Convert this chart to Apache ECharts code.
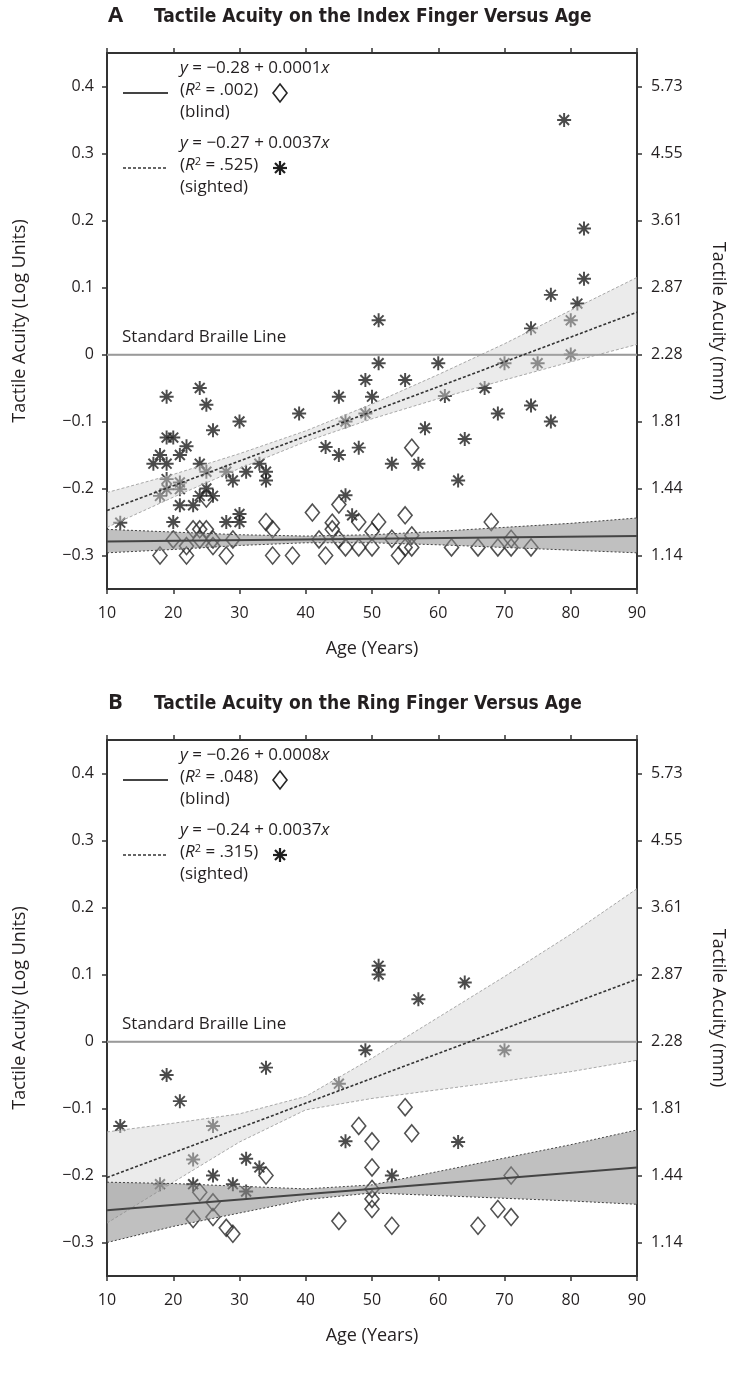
<!DOCTYPE html>
<html>
<head>
<meta charset="utf-8">
<script src="https://cdn.jsdelivr.net/npm/echarts@6/dist/echarts.min.js"></script>
<style>
  html, body { margin: 0; padding: 0; background: #fff; }
  #chart { width: 735px; height: 1379px; }
</style>
</head>
<body>
<div id="chart"></div>
<script>
// ---- data ----
const bandAges = [10, 20, 30, 40, 50, 60, 70, 80, 90];
const fitAges = [10, 90];
const yTicks = [-0.3, -0.2, -0.1, 0, 0.1, 0.2, 0.3, 0.4];
const mmLabels = ['1.14', '1.44', '1.81', '2.28', '2.87', '3.61', '4.55', '5.73'];
const brailleLevel = 0;

// panel A: index finger
const sightedA = [[12,-0.251],[17,-0.163],[18,-0.15],[19,-0.063],[19,-0.124],[20,-0.124],[22,-0.137],[19,-0.163],[21,-0.15],[24,-0.05],[25,-0.075],[26,-0.113],[30,-0.1],[39,-0.088],[45,-0.063],[24,-0.163],[25,-0.175],[28,-0.175],[29,-0.188],[31,-0.175],[33,-0.163],[34,-0.175],[34,-0.188],[19,-0.186],[21,-0.191],[19,-0.201],[21,-0.201],[25,-0.2],[18,-0.211],[24,-0.211],[26,-0.211],[21,-0.225],[23,-0.225],[20,-0.25],[28,-0.25],[30,-0.238],[30,-0.25],[43,-0.138],[45,-0.15],[46,-0.1],[46,-0.21],[47,-0.24],[48,-0.139],[49,-0.038],[49,-0.088],[50,-0.063],[51,-0.013],[51,0.051],[53,-0.163],[55,-0.038],[57,-0.163],[58,-0.11],[60,-0.013],[61,-0.062],[63,-0.188],[64,-0.126],[67,-0.05],[69,-0.088],[70,-0.013],[74,-0.076],[74,0.039],[75,-0.013],[77,-0.1],[77,0.089],[79,0.35],[80,0],[80,0.051],[81,0.076],[82,0.113],[82,0.188]];
const blindA = [[18,-0.3],[20,-0.276],[22,-0.3],[22,-0.286],[23,-0.261],[24,-0.261],[25,-0.261],[24,-0.276],[26,-0.276],[26,-0.286],[25,-0.215],[28,-0.3],[29,-0.276],[34,-0.25],[35,-0.261],[35,-0.3],[38,-0.3],[41,-0.236],[42,-0.276],[43,-0.3],[44,-0.251],[44,-0.261],[45,-0.224],[45,-0.276],[46,-0.288],[48,-0.25],[48,-0.288],[50,-0.264],[50,-0.288],[51,-0.25],[53,-0.275],[54,-0.3],[55,-0.24],[55,-0.288],[56,-0.139],[56,-0.27],[56,-0.288],[62,-0.288],[66,-0.288],[68,-0.25],[69,-0.288],[71,-0.275],[71,-0.288],[74,-0.288]];
const fitBlindA = [-0.279, -0.271];
const fitSightedA = [-0.233, 0.063];
const bandBlindAHi = [-0.261, -0.265, -0.269, -0.271, -0.269, -0.264, -0.258, -0.252, -0.244];
const bandBlindALo = [-0.296, -0.291, -0.285, -0.281, -0.281, -0.284, -0.288, -0.292, -0.296];
const bandSightedAHi = [-0.206, -0.179, -0.148, -0.114, -0.074, -0.03, 0.016, 0.066, 0.115];
const bandSightedALo = [-0.258, -0.213, -0.17, -0.13, -0.096, -0.066, -0.038, -0.011, 0.015];

// panel B: ring finger
const sightedB = [[12,-0.126],[18,-0.213],[19,-0.05],[21,-0.089],[23,-0.176],[23,-0.213],[26,-0.126],[26,-0.2],[29,-0.213],[31,-0.224],[31,-0.175],[33,-0.188],[34,-0.039],[45,-0.063],[46,-0.149],[49,-0.013],[51,0.113],[51,0.1],[53,-0.2],[57,0.063],[63,-0.15],[64,0.088],[70,-0.013]];
const blindB = [[23,-0.265],[24,-0.225],[26,-0.24],[26,-0.262],[28,-0.278],[29,-0.287],[34,-0.2],[45,-0.268],[48,-0.126],[50,-0.149],[50,-0.188],[50,-0.22],[50,-0.235],[50,-0.25],[53,-0.275],[55,-0.098],[56,-0.137],[66,-0.275],[69,-0.25],[71,-0.262],[71,-0.2]];
const fitBlindB = [-0.252, -0.188];
const fitSightedB = [-0.203, 0.093];
const bandBlindBHi = [-0.21, -0.212, -0.216, -0.22, -0.214, -0.194, -0.174, -0.154, -0.132];
const bandBlindBLo = [-0.3, -0.276, -0.256, -0.236, -0.226, -0.23, -0.234, -0.238, -0.243];
const bandSightedBHi = [-0.135, -0.122, -0.108, -0.082, -0.025, 0.036, 0.097, 0.16, 0.228];
const bandSightedBLo = [-0.271, -0.21, -0.15, -0.102, -0.085, -0.072, -0.059, -0.045, -0.028];

// ---- styling ----
const FONT = "'Open Sans', 'Noto Sans', sans-serif";
const TITLE_FONT = "'Liberation Sans Narrow', 'DejaVu Sans Condensed', 'Open Sans', sans-serif";
const INK = '#231f20';
const ASTERISK = 'path://M0 4.3H10V5.7H0Z M4.3 0H5.7V10H4.3Z M0.969 1.959L1.959 0.969L9.031 8.041L8.041 9.031Z M1.959 9.031L0.969 8.041L8.041 0.969L9.031 1.959Z';

const grids = [
  { left: 107, width: 533, top: 53, height: 536 },
  { left: 107, width: 533, top: 740, height: 536 }
];

const tickIdx = v => yTicks.findIndex(t => Math.abs(t - v) < 1e-6);
const logLabel = v => {
  if (Math.abs(v) < 1e-6) return '0';
  return (v < 0 ? '\u2212' : '') + Math.abs(v).toFixed(1);
};

function xAxes(gi) {
  const base = {
    gridIndex: gi, type: 'value', min: 10, max: 90, interval: 10,
    axisLine: { onZero: false, lineStyle: { color: '#333', width: 2 } },
    axisTick: { inside: false, length: 5, lineStyle: { color: '#333', width: 1.5 } },
    splitLine: { show: false }
  };
  return [
    Object.assign({}, base, {
      position: 'bottom',
      axisLabel: { fontFamily: FONT, fontSize: 16, color: INK, margin: 16 },
      name: 'Age (Years)', nameLocation: 'middle', nameGap: 51,
      nameTextStyle: { fontFamily: FONT, fontSize: 18, color: INK }
    }),
    Object.assign({}, base, { position: 'top', axisLabel: { show: false } })
  ];
}

function yAxes(gi) {
  const base = {
    gridIndex: gi, type: 'value', min: -0.35, max: 0.45,
    axisLine: { onZero: false, lineStyle: { color: '#333', width: 2 } },
    axisTick: { inside: false, length: 5, customValues: yTicks, lineStyle: { color: '#333', width: 1.5 } },
    splitLine: { show: false },
    nameLocation: 'middle',
    nameTextStyle: { fontFamily: FONT, fontSize: 18, color: INK }
  };
  return [
    Object.assign({}, base, {
      position: 'left',
      axisLabel: { customValues: yTicks, formatter: logLabel, fontFamily: FONT, fontSize: 16, color: INK, margin: 13 },
      name: 'Tactile Acuity (Log Units)', nameGap: 78
    }),
    Object.assign({}, base, {
      position: 'right',
      axisLabel: { customValues: yTicks, formatter: v => mmLabels[tickIdx(v)], fontFamily: FONT, fontSize: 16, color: INK, margin: 14 },
      name: 'Tactile Acuity (mm)', nameGap: 72, nameRotate: -90
    })
  ];
}

function bandSeries(gi, hi, lo, fill, edge, dash) {
  return {
    type: 'custom', xAxisIndex: gi * 2, yAxisIndex: gi * 2, z: 4, silent: true,
    data: [[50, 0]],
    renderItem(params, api) {
      const top = bandAges.map((a, i) => api.coord([a, hi[i]]));
      const bot = bandAges.map((a, i) => api.coord([a, lo[i]]));
      return {
        type: 'group',
        children: [
          { type: 'polygon', shape: { points: top.concat(bot.slice().reverse()) }, style: { fill: fill } },
          { type: 'polyline', shape: { points: top }, style: { fill: null, stroke: edge, lineWidth: 1, lineDash: dash } },
          { type: 'polyline', shape: { points: bot }, style: { fill: null, stroke: edge, lineWidth: 1, lineDash: dash } }
        ]
      };
    }
  };
}

function panelSeries(gi, sighted, blind, fitB, fitS, bbHi, bbLo, bsHi, bsLo) {
  const ax = { xAxisIndex: gi * 2, yAxisIndex: gi * 2 };
  return [
    Object.assign({
      type: 'line', data: [[10, brailleLevel], [90, brailleLevel]], symbol: 'none', silent: true, z: 1,
      lineStyle: { color: '#9a9a9a', width: 1.5 },
      markLine: {
        silent: true, symbol: 'none', data: [{ yAxis: brailleLevel }],
        lineStyle: { color: '#9a9a9a', width: 1.5, type: 'solid' },
        label: { formatter: 'Standard Braille Line', position: 'insideStartTop', distance: [15, 9],
                 fontFamily: FONT, fontSize: 17, color: INK }
      }
    }, ax),
    Object.assign({
      type: 'scatter', data: sighted, symbol: ASTERISK, symbolSize: 14, z: 2,
      itemStyle: { color: '#1e1e1e' }
    }, ax),
    Object.assign({
      type: 'scatter', data: blind, symbol: 'diamond', symbolSize: [14, 17], z: 2,
      itemStyle: { color: 'rgba(0,0,0,0)', borderColor: '#262626', borderWidth: 1.6 }
    }, ax),
    bandSeries(gi, bsHi, bsLo, 'rgba(212,212,212,0.47)', '#a8a8a8', [3, 2]),
    bandSeries(gi, bbHi, bbLo, 'rgba(140,140,140,0.55)', '#444', [2, 2]),
    Object.assign({
      type: 'line', data: fitAges.map((a, i) => [a, fitS[i]]), symbol: 'none', silent: true, z: 6,
      lineStyle: { color: '#333', width: 1.6, type: [3, 2] }
    }, ax),
    Object.assign({
      type: 'line', data: fitAges.map((a, i) => [a, fitB[i]]), symbol: 'none', silent: true, z: 6,
      lineStyle: { color: '#444', width: 2 }
    }, ax)
  ];
}

// legend + titles as graphic elements
const rich = {
  i: { fontStyle: 'italic', fontFamily: FONT, fontSize: 17, color: INK },
  s: { fontSize: 11, fontFamily: FONT, color: INK, padding: [0, 0, 8, 0] }
};
function legendGraphics(top, eqB, r2B, eqS, r2S) {
  const t = (yc, text) => ({
    type: 'text', left: 180, top: yc - 12,
    style: { text: text, rich: rich, fontFamily: FONT, fontSize: 17, fill: INK }
  });
  const yL1 = top + 40, yL2 = top + 115;
  return [
    { type: 'line', shape: { x1: 123, y1: yL1, x2: 168, y2: yL1 }, style: { stroke: '#444', lineWidth: 2 } },
    t(yL1 - 21, eqB), t(yL1, r2B), t(yL1 + 23, '(blind)'),
    { type: 'polygon', shape: { points: [[280, yL1 - 9], [287, yL1], [280, yL1 + 9], [273, yL1]] },
      style: { fill: 'none', stroke: '#262626', lineWidth: 1.6 } },
    { type: 'line', shape: { x1: 123, y1: yL2, x2: 168, y2: yL2 }, style: { stroke: '#333', lineWidth: 1.6, lineDash: [3, 2] } },
    t(yL2 - 21, eqS), t(yL2, r2S), t(yL2 + 23, '(sighted)'),
    { type: 'group', x: 280, y: yL2, children: [
      { type: 'line', shape: { x1: -7, y1: 0, x2: 7, y2: 0 }, style: { stroke: '#1e1e1e', lineWidth: 2.2 } },
      { type: 'line', shape: { x1: 0, y1: -7, x2: 0, y2: 7 }, style: { stroke: '#1e1e1e', lineWidth: 2.2 } },
      { type: 'line', shape: { x1: -5, y1: -5, x2: 5, y2: 5 }, style: { stroke: '#1e1e1e', lineWidth: 2.2 } },
      { type: 'line', shape: { x1: -5, y1: 5, x2: 5, y2: -5 }, style: { stroke: '#1e1e1e', lineWidth: 2.2 } }
    ] }
  ];
}
function titleGraphic(top, letter, text) {
  return [
    { type: 'text', left: 108, top: top - 48, style: { text: letter, fontFamily: FONT, fontWeight: 'bold', fontSize: 22, fill: INK } },
    { type: 'text', left: 154, top: top - 45, style: { text: text, fontFamily: TITLE_FONT, fontWeight: 'bold', fontSize: 19, fill: INK } }
  ];
}

const chart = echarts.init(document.getElementById('chart'), null, { renderer: 'canvas' });
chart.setOption({
  animation: false,
  backgroundColor: '#fff',
  grid: grids,
  xAxis: xAxes(0).concat(xAxes(1)),
  yAxis: yAxes(0).concat(yAxes(1)),
  series: panelSeries(0, sightedA, blindA, fitBlindA, fitSightedA, bandBlindAHi, bandBlindALo, bandSightedAHi, bandSightedALo)
    .concat(panelSeries(1, sightedB, blindB, fitBlindB, fitSightedB, bandBlindBHi, bandBlindBLo, bandSightedBHi, bandSightedBLo)),
  graphic: [].concat(
    titleGraphic(grids[0].top, 'A', 'Tactile Acuity on the Index Finger Versus Age'),
    titleGraphic(grids[1].top, 'B', 'Tactile Acuity on the Ring Finger Versus Age'),
    legendGraphics(grids[0].top, '{i|y} = \u22120.28 + 0.0001{i|x}', '({i|R}{s|2} = .002)', '{i|y} = \u22120.27 + 0.0037{i|x}', '({i|R}{s|2} = .525)'),
    legendGraphics(grids[1].top, '{i|y} = \u22120.26 + 0.0008{i|x}', '({i|R}{s|2} = .048)', '{i|y} = \u22120.24 + 0.0037{i|x}', '({i|R}{s|2} = .315)')
  )
});
</script>
</body>
</html>
